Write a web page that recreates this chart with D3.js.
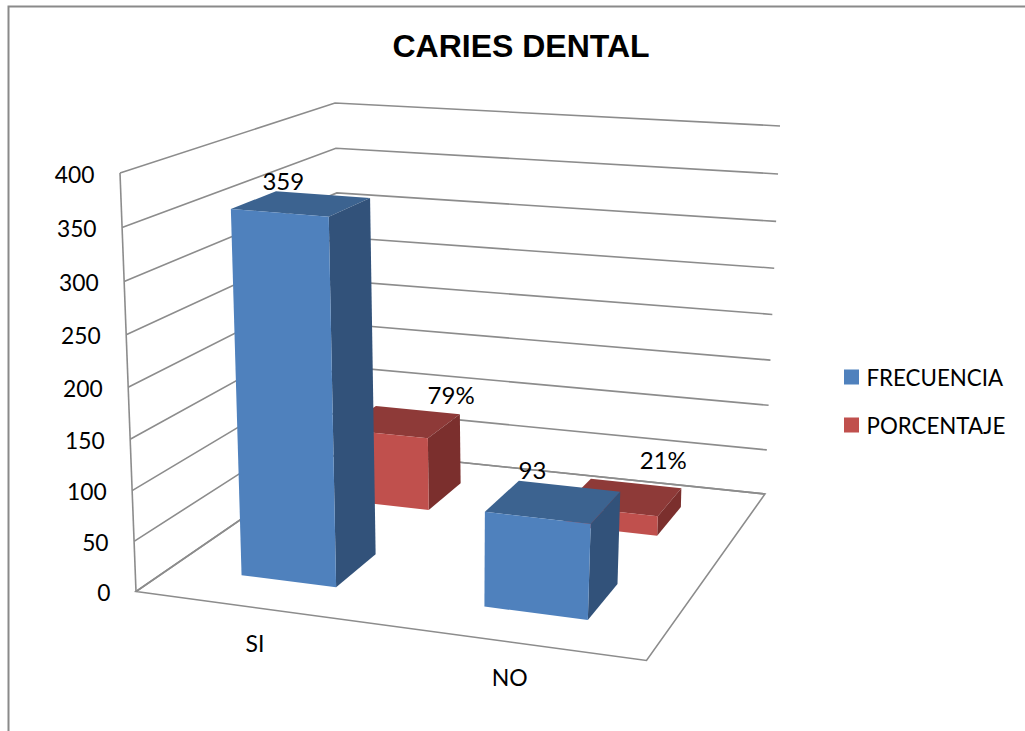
<!DOCTYPE html>
<html>
<head>
<meta charset="utf-8">
<script src="https://cdn.jsdelivr.net/npm/d3@7"></script>
<style>
  html, body { margin: 0; padding: 0; background: #fff; }
  svg { display: block; }
  text { font-family: Lato, "Open Sans", sans-serif; fill: #000; }
</style>
</head>
<body>
<svg id="chart" width="1025" height="731"></svg>
<script>
// Values
const title = "CARIES DENTAL";
const categories = ["SI", "NO"];
const seriesNames = ["FRECUENCIA", "PORCENTAJE"];
const frecuencia = [359, 93];
const porcentaje = [79, 21];
const valueTicks = [0, 50, 100, 150, 200, 250, 300, 350, 400];

// Layout of the 3D box: screen corners of its floor and ceiling
const floorQuad = [[136, 591.5], [646.5, 660.5], [765, 494], [342, 450]];
const ceilQuad = [[120, 173], [670, 215], [780, 126], [335, 103]];
const perspectiveRatio = 0.953;
const labelNudge = [[[-18, -23], [-21, -32]], [[50, -27], [40, -37]]];
const palette = [
  { front: "#4f81bd", top: "#3c6390", side: "#32527a" },
  { front: "#c0504d", top: "#8e3a38", side: "#7b2f2d" }
];

const svg = d3.select("#chart");

// Unit square to quad homography
function quadMap(q) {
  const [[x0, y0], [x1, y1], [x2, y2], [x3, y3]] = q;
  const dx1 = x1 - x2, dx2 = x3 - x2, sx = x0 - x1 + x2 - x3;
  const dy1 = y1 - y2, dy2 = y3 - y2, sy = y0 - y1 + y2 - y3;
  const det = dx1 * dy2 - dx2 * dy1;
  const g = (sx * dy2 - dx2 * sy) / det;
  const h = (dx1 * sy - sx * dy1) / det;
  const a = x1 - x0 + g * x1, b = x3 - x0 + h * x3;
  const d = y1 - y0 + g * y1, e = y3 - y0 + h * y3;
  return (u, v) => {
    const w = g * u + h * v + 1;
    return [(a * u + b * v + x0) / w, (d * u + e * v + y0) / w];
  };
}

const floorAt = quadMap(floorQuad);
const ceilAt = quadMap(ceilQuad);

// Scales in box space: 0..1 along width, depth and height
const xBand = d3.scaleBand().domain(categories).range([0, 1]).paddingInner(0.6).paddingOuter(0.3);
const zBand = d3.scaleBand().domain(seriesNames).range([0, 1]).paddingInner(0.6).paddingOuter(0.3);
const yScale = d3.scaleLinear().domain([0, 400]).range([0, 1]);

// Project (width, value, depth) to the screen
function project(u, value, v) {
  const t = yScale(value);
  const f = floorAt(u, v), c = ceilAt(u, v);
  const k = perspectiveRatio * t / (1 - t + perspectiveRatio * t);
  return [f[0] + (c[0] - f[0]) * k, f[1] + (c[1] - f[1]) * k];
}

const pathOf = d3.line();
const closed = pts => pathOf(pts) + "Z";
const gridStroke = "#8c8c8c";

// Walls and floor
const grid = svg.append("g").attr("fill", "none").attr("stroke", gridStroke).attr("stroke-width", 1.6);
grid.selectAll("path.wall").data(valueTicks).join("path")
  .attr("class", "wall")
  .attr("d", d => pathOf([project(0, d, 0), project(0, d, 1), project(1, d, 1)]));
grid.append("path").attr("d", pathOf([project(0, 0, 0), project(0, 400, 0)]));
grid.append("path").attr("d", closed([project(0, 0, 0), project(1, 0, 0), project(1, 0, 1), project(0, 0, 1)]));

// Chart frame
svg.append("path")
  .attr("d", "M1025,6.5H8.5V731")
  .attr("fill", "none").attr("stroke", "#8a8a8a").attr("stroke-width", 2);

// Bars, back row first
const rows = [
  { name: seriesNames[1], values: porcentaje, colors: palette[1], suffix: "%", nudge: labelNudge[1] },
  { name: seriesNames[0], values: frecuencia, colors: palette[0], suffix: "", nudge: labelNudge[0] }
];
rows.forEach(row => {
  const z0 = zBand(row.name), z1 = z0 + zBand.bandwidth();
  categories.forEach((cat, i) => {
    const v = row.values[i];
    const x0 = xBand(cat), x1 = x0 + xBand.bandwidth();
    const g = svg.append("g").attr("class", "bar");
    g.append("path").attr("fill", row.colors.top)
      .attr("d", closed([project(x0, v, z0), project(x1, v, z0), project(x1, v, z1), project(x0, v, z1)]));
    g.append("path").attr("fill", row.colors.side)
      .attr("d", closed([project(x1, 0, z0), project(x1, v, z0), project(x1, v, z1), project(x1, 0, z1)]));
    g.append("path").attr("fill", row.colors.front)
      .attr("d", closed([project(x0, 0, z0), project(x1, 0, z0), project(x1, v, z0), project(x0, v, z0)]));
  });
});

// Value labels sit above the bars once every bar is down
rows.forEach(row => {
  const z0 = zBand(row.name), zm = z0 + zBand.bandwidth() / 2;
  categories.forEach((cat, i) => {
    const v = row.values[i];
    const p = project(xBand(cat) + xBand.bandwidth() / 2, v, zm);
    svg.append("text")
      .attr("x", p[0] + row.nudge[i][0]).attr("y", p[1] + row.nudge[i][1])
      .attr("text-anchor", "middle").attr("dominant-baseline", "central")
      .attr("font-size", 24)
      .text(v + row.suffix);
  });
});

// Value axis labels
svg.selectAll("text.tick").data(valueTicks).join("text")
  .attr("class", "tick")
  .attr("x", d => project(0, d, 0)[0] - 25.5)
  .attr("y", d => project(0, d, 0)[1] + 0.5)
  .attr("text-anchor", "end").attr("dominant-baseline", "central")
  .attr("font-size", 22.8)
  .text(d => d);

// Category labels
svg.selectAll("text.cat").data(categories).join("text")
  .attr("class", "cat")
  .attr("x", d => project(xBand(d) + xBand.bandwidth() / 2, 0, 0)[0])
  .attr("y", d => project(xBand(d) + xBand.bandwidth() / 2, 0, 0)[1] + 35)
  .attr("text-anchor", "middle").attr("dominant-baseline", "central")
  .attr("font-size", 23)
  .text(d => d);

// Title
svg.append("text")
  .attr("x", 521).attr("y", 46)
  .attr("text-anchor", "middle").attr("dominant-baseline", "central")
  .style("font-family", "'Liberation Sans', Arial, sans-serif")
  .attr("font-weight", "bold").attr("font-size", 32)
  .text(title);

// Legend
const legendY = d3.scalePoint().domain(seriesNames).range([377, 425]);
const legend = svg.selectAll("g.legend").data(seriesNames).join("g")
  .attr("class", "legend")
  .attr("transform", d => `translate(844,${legendY(d)})`);
legend.append("rect")
  .attr("y", -7.5).attr("width", 15).attr("height", 15)
  .attr("fill", (d, i) => palette[i].front);
legend.append("text")
  .attr("x", 22.5)
  .attr("dominant-baseline", "central")
  .attr("font-size", 22.3)
  .text(d => d);
</script>
</body>
</html>
